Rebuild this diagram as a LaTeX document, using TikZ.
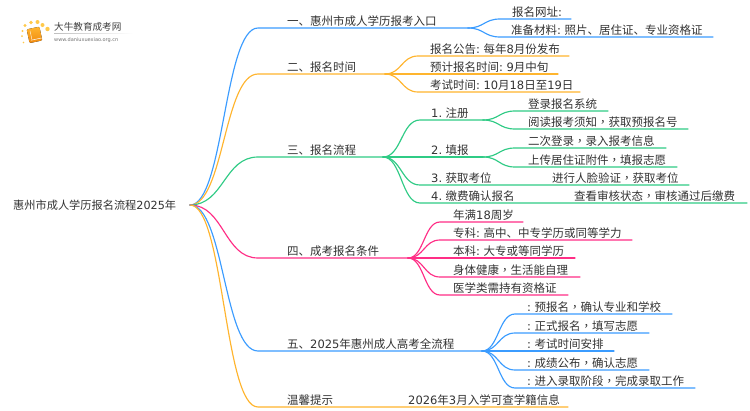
\documentclass[tikz,border=0pt]{standalone}
\usepackage{fontspec}
\setmainfont{Noto Sans CJK SC}
\newfontfamily\latfont{DejaVu Sans}
\newfontfamily\tcfont{Noto Sans CJK TC}
\usetikzlibrary{calc}
\newcommand\lt[1]{{\latfont #1}}
\newcommand\cm{{\tcfont ，}}
\definecolor{cblue}{HTML}{3B9CFF}
\definecolor{corange}{HTML}{FFB52E}
\definecolor{cgreen}{HTML}{2FCB85}
\definecolor{cpink}{HTML}{FF2E86}
\definecolor{ctext}{HTML}{333333}
\definecolor{cdot}{HTML}{FFC94A}
\definecolor{cbooka}{HTML}{FFB52E}
\definecolor{cbookb}{HTML}{F08A10}
\tikzset{
  lbl/.style={anchor=base west,inner sep=0pt,text=ctext,font=\fontsize{11.5}{12}\selectfont},
  wire/.style={line width=1.15pt,line cap=round,line join=round},
  wblue/.style={wire,draw=cblue},
  worange/.style={wire,draw=corange},
  wgreen/.style={wire,draw=cgreen},
  wpink/.style={wire,draw=cpink},
  cv/.style={to path={let \p1=(\tikztostart),\p2=(\tikztotarget),\n1={0.5*(\x1+\x2)} in .. controls (\n1,\y1) and (\n1,\y2) .. (\tikztotarget)}}
}
% name, parent, wire style, curve end x, y, line end x, text x, text
\newcommand\limb[8]{%
  \coordinate (#1s) at (#4,#5);
  \coordinate (#1) at (#6,#5);
  \node[lbl] (#1t) at (#7,#5-2.9) {#8};
  \draw[#3] (#2) to[cv] (#1s) -- (#1);
}
\begin{document}
\begin{tikzpicture}[x=1pt,y=-1pt]
\useasboundingbox (0,0) rectangle (750,410);
\fill[white] (0,0) rectangle (750,410);
% logo
\foreach \px/\py/\r in {23.5/42.5/0.8,22/36/1,22.5/31/1.2,25/25.5/1.6,31/22.5/1.9,37.5/22/2,42.5/25/2,47.5/29/2.2}{
  \fill[cdot] (\px,\py) circle (\r pt);
}
\fill[rotate around={12:(34,35)},rounded corners=1.2pt,top color=cbooka,bottom color=cbookb] (28,28) rectangle (41,42);
\draw[white,line width=.5pt,rotate around={12:(34,35)}] (30,39.5) -- (41,39.5);
\draw[white,line width=.4pt,rotate around={12:(34,35)}] (31,30) -- (31,39);
\node[anchor=base west,inner sep=0pt,text=black!75,font=\fontsize{9.6}{10}\selectfont] (logoa) at (54,30.5) {大牛教育成考网};
\node[anchor=base west,inner sep=0pt,text=black!55,font=\latfont\fontsize{5}{6}\selectfont] (logob) at (54,41) {www.daniuxuexiao.org.cn};
\fill[left color=black!25,right color=white] (54,33) rectangle (133,33.6);
% root
\coordinate (root) at (190,205);
\node[lbl,anchor=base west,font=\fontsize{11.2}{12}\selectfont] (roott) at (13,209.5) {惠州市成人学历报名流程\lt{2025}年};
% branch 1
\limb{a}{root}{wblue}{258}{28}{468}{287}{一、惠州市成人学历报考入口}
\limb{aa}{a}{wblue}{500}{19}{571}{512}{报名网址\lt{:}}
\limb{ab}{a}{wblue}{500}{37}{713}{511}{准备材料\lt{:} 照片、居住证、专业资格证}
% branch 2
\limb{b}{root}{worange}{258}{74}{385}{287}{二、报名时间}
\limb{ba}{b}{worange}{418}{56}{569}{430}{报名公告\lt{:} 每年\lt{8}月份发布}
\limb{bb}{b}{worange}{418}{74}{558}{430}{预计报名时间\lt{:} \lt{9}月中旬}
\limb{bc}{b}{worange}{418}{92}{580}{430}{考试时间\lt{:} \lt{10}月\lt{18}日至\lt{19}日}
% branch 3
\limb{c}{root}{wgreen}{258}{157}{383}{287}{三、报名流程}
\limb{ca}{c}{wgreen}{420}{120}{483}{431}{\lt{1.} 注册}
\limb{caa}{ca}{wgreen}{515}{111}{608}{528}{登录报名系统}
\limb{cab}{ca}{wgreen}{515}{129}{688}{528}{阅读报考须知\cm 获取预报名号}
\limb{cb}{c}{wgreen}{420}{157}{483}{431}{\lt{2.} 填报}
\limb{cba}{cb}{wgreen}{515}{148}{666}{528}{二次登录\cm 录入报考信息}
\limb{cbb}{cb}{wgreen}{515}{167}{677}{528}{上传居住证附件\cm 填报志愿}
\limb{cc}{c}{wgreen}{420}{185}{689}{431}{\lt{3.} 获取考位}
\node[lbl] (cct) at (552,182.1) {进行人脸验证\cm 获取考位};
\limb{cd}{c}{wgreen}{420}{203}{747}{431}{\lt{4.} 缴费确认报名}
\node[lbl] (cdt) at (574,200.1) {查看审核状态\cm 审核通过后缴费};
% branch 4
\limb{d}{root}{wpink}{258}{258}{408}{287}{四、成考报名条件}
\limb{da}{d}{wpink}{440}{222}{523}{453}{年满\lt{18}周岁}
\limb{db}{d}{wpink}{440}{240}{632}{453}{专科\lt{:} 高中、中专学历或同等学力}
\limb{dc}{d}{wpink}{440}{258}{575}{453}{本科\lt{:} 大专或等同学历}
\limb{dd}{d}{wpink}{440}{277}{580}{453}{身体健康\cm 生活能自理}
\limb{de}{d}{wpink}{440}{295}{568}{453}{医学类需持有资格证}
% branch 5
\limb{e}{root}{wblue}{258}{351}{482}{287}{五、\lt{2025}年惠州成人高考全流程}
\limb{ea}{e}{wblue}{515}{314}{672}{527}{\lt{:} 预报名\cm 确认专业和学校}
\limb{eb}{e}{wblue}{515}{333}{649}{527}{\lt{:} 正式报名\cm 填写志愿}
\limb{ec}{e}{wblue}{515}{351}{614}{527}{\lt{:} 考试时间安排}
\limb{ed}{e}{wblue}{515}{370}{649}{527}{\lt{:} 成绩公布\cm 确认志愿}
\limb{ee}{e}{wblue}{515}{388}{695}{527}{\lt{:} 进入录取阶段\cm 完成录取工作}
% branch 6
\limb{f}{root}{worange}{258}{407}{568}{287}{温馨提示}
\node[lbl] (ft2) at (408,404.1) {\lt{2026}年\lt{3}月入学可查学籍信息};
\end{tikzpicture}
\end{document}
